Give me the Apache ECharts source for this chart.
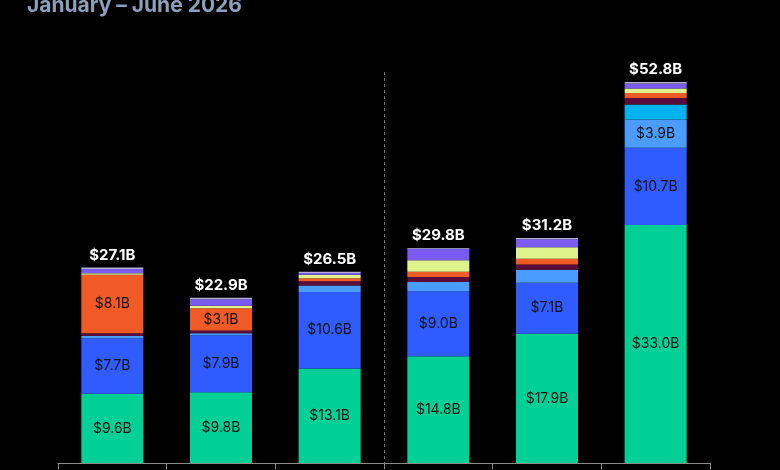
<!DOCTYPE html>
<html>
<head>
<meta charset="utf-8">
<script src="https://cdn.jsdelivr.net/npm/echarts@6/dist/echarts.min.js"></script>
<style>
  html, body { margin: 0; padding: 0; background: #000; }
  #chart { width: 780px; height: 470px; }
</style>
</head>
<body>
<div id="chart"></div>
<script>
// months
const months = ['Jan', 'Feb', 'Mar', 'Apr', 'May', 'Jun'];

// stacked segments, bottom to top ($B)
const segGreen    = [9.6, 9.8, 13.1, 14.8, 17.9, 33.0];
const segBlue     = [7.7, 7.9, 10.6, 9.0, 7.1, 10.7];
const segLightBlue = [0.3, 0.3, 0.9, 1.3, 1.8, 3.9];
const segCyan     = [0, 0, 0, 0, 0, 2.1];
const segMaroon   = [0.4, 0.35, 0.6, 0.7, 0.7, 0.9];
const segOrange   = [8.1, 3.1, 0.4, 0.7, 0.8, 0.7];
const segYellow   = [0.2, 0.35, 0.5, 1.6, 1.6, 0.6];
const segPurple   = [0.6, 0.9, 0.25, 1.6, 1.1, 0.7];
const segLavender = [0.2, 0.2, 0.15, 0.1, 0.2, 0.2];

// totals shown above each bar
const totals = [27.1, 22.9, 26.5, 29.8, 31.2, 52.8];

const chart = echarts.init(document.getElementById('chart'));

const fontFamily = 'Inter, "Noto Sans", sans-serif';

// 片段标签：只显示较大的片段
const segLabel = {
  show: true,
  position: 'inside',
  color: '#141414',
  fontSize: 14,
  fontFamily: fontFamily,
  formatter: p => (p.value >= 3 ? '$' + p.value.toFixed(1) + 'B' : '')
};

const makeSeries = (name, data, color, withLabel) => ({
  name: name,
  type: 'bar',
  stack: 'total',
  barWidth: 62,
  data: data,
  itemStyle: { color: color },
  label: withLabel ? segLabel : { show: false },
  emphasis: { disabled: true }
});

const series = [
  makeSeries('Green', segGreen, '#00d096', true),
  makeSeries('Blue', segBlue, '#2f5bff', true),
  makeSeries('Light blue', segLightBlue, '#4a9cff', true),
  makeSeries('Cyan', segCyan, '#00b2ee', false),
  makeSeries('Maroon', segMaroon, '#5a0c3c', false),
  makeSeries('Orange', segOrange, '#ef5a27', true),
  makeSeries('Yellow', segYellow, '#dff28c', false),
  makeSeries('Purple', segPurple, '#7a5cf4', false),
  makeSeries('Lavender', segLavender, '#b4b0d4', false)
];

// 顶部总额标签
series[series.length - 1].label = {
  show: true,
  position: 'top',
  distance: 5,
  color: '#ffffff',
  fontSize: 15,
  fontWeight: 'bold',
  fontFamily: fontFamily,
  formatter: p => '$' + totals[p.dataIndex].toFixed(1) + 'B'
};

chart.setOption({
  backgroundColor: '#000000',
  animation: false,
  title: {
    text: 'January – June 2026',
    left: 22,
    top: -10,
    textStyle: {
      color: '#8da0bb',
      fontSize: 21,
      fontWeight: 'bold',
      fontFamily: fontFamily
    }
  },
  grid: {
    left: 58,
    right: 70,
    top: 72,
    bottom: 7,
    containLabel: false
  },
  xAxis: [
    {
      type: 'category',
      data: months,
      axisLine: { lineStyle: { color: '#8a8a8a', width: 1 } },
      axisTick: { show: true, length: 6, lineStyle: { color: '#8a8a8a' } },
      axisLabel: { show: false },
      splitLine: { show: false }
    },
    {
      // 辅助轴：只用来画中间的虚线分隔
      type: 'value',
      position: 'bottom',
      min: 0,
      max: 6,
      interval: 3,
      axisLine: { show: false },
      axisTick: { show: false },
      axisLabel: { show: false },
      splitLine: {
        show: true,
        showMinLine: false,
        showMaxLine: false,
        lineStyle: { color: '#707070', type: [3, 3], width: 1 }
      }
    }
  ],
  yAxis: {
    type: 'value',
    min: 0,
    max: 54.2,
    show: false
  },
  series: series
});
</script>
</body>
</html>
